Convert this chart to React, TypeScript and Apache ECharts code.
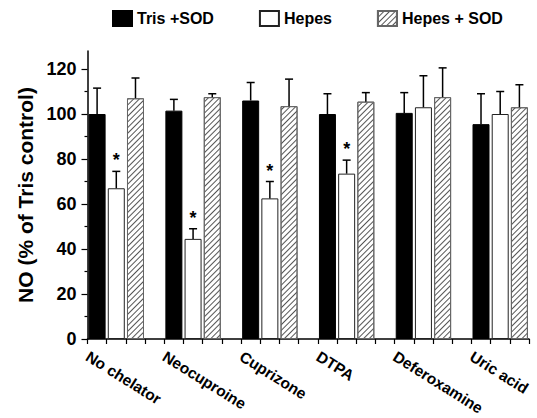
import React, { useEffect, useRef } from 'react';
import * as echarts from 'echarts';

const groups = ['No chelator', 'Neocuproine', 'Cuprizone', 'DTPA', 'Deferoxamine', 'Uric acid'];
const seriesNames = ['Tris +SOD', 'Hepes', 'Hepes + SOD'];
const trisSod = [100, 101.5, 106, 100, 100.5, 95.5];
const trisSodErr = [11.5, 5, 8, 9, 9, 13.5];
const hepes = [67, 44.5, 62.5, 73.5, 103, 100];
const hepesErr = [7.5, 4.5, 7.5, 6, 14, 10];
const hepesSod = [107, 107.5, 103.5, 105.5, 107.5, 103];
const hepesSodErr = [9, 1.5, 12, 4, 13, 10];
const hepesSignificant = [1, 1, 1, 1, 0, 0];
const yTicks = [0, 20, 40, 60, 80, 100, 120];
const yMinorTicks = [10, 30, 50, 70, 90, 110];

const FONT = '"Liberation Sans", Arial, Helvetica, sans-serif';
const SLOTS_PER_GROUP = 4;
const TOTAL_SLOTS = groups.length * SLOTS_PER_GROUP - 1;

function slotData(values: number[], s: number) {
  const arr: (number | string)[] = new Array(TOTAL_SLOTS).fill('-');
  values.forEach((v, g) => {
    arr[g * SLOTS_PER_GROUP + s] = v;
  });
  return arr;
}

export default function App() {
  const ref = useRef<HTMLDivElement>(null);
  useEffect(() => {
    if (!ref.current) return;
    const chart = echarts.init(ref.current, undefined, { renderer: 'svg' });

    const valuesList = [trisSod, hepes, hepesSod];
    const errList = [trisSodErr, hepesErr, hepesSodErr];
    const errData: number[][] = [];
    valuesList.forEach((vals, s) => {
      vals.forEach((v, g) => {
        errData.push([g * SLOTS_PER_GROUP + s, v, errList[s][g], s === 1 ? hepesSignificant[g] : 0]);
      });
    });

    const labelData: string[] = [];
    for (let i = 0; i <= TOTAL_SLOTS; i++) {
      labelData.push(i % SLOTS_PER_GROUP === 0 ? groups[i / SLOTS_PER_GROUP] : '');
    }
    const slotCats = new Array(TOTAL_SLOTS).fill(0).map((_, i) => 'slot' + i);

    const barCommon = {
      type: 'bar' as const,
      xAxisIndex: 0,
      yAxisIndex: 0,
      barWidth: 17,
      barGap: '-100%',
    };

    chart.setOption({
      animation: false,
      backgroundColor: '#ffffff',
      textStyle: { fontFamily: FONT },
      legend: {
        top: 5,
        left: 107,
        itemWidth: 19,
        itemHeight: 15,
        itemGap: 45,
        icon: 'rect',
        textStyle: { fontFamily: FONT, fontSize: 16, fontWeight: 'bold', color: '#000' },
        data: seriesNames,
      },
      grid: { left: 87.5, right: 8, top: 51, bottom: 79, containLabel: false, outerBoundsMode: 'none' },
      xAxis: [
        {
          type: 'category',
          data: slotCats,
          boundaryGap: true,
          position: 'bottom',
          axisLine: { show: true, lineStyle: { color: '#000', width: 1.5 } },
          axisTick: { show: true, interval: 0, length: 5, lineStyle: { color: '#000', width: 1.2 } },
          axisLabel: { show: false },
          splitLine: { show: false },
        },
        {
          type: 'category',
          data: labelData,
          boundaryGap: false,
          position: 'bottom',
          axisLine: { show: false },
          axisTick: { show: false },
          axisLabel: {
            interval: 0,
            rotate: -32,
            margin: 16,
            fontFamily: FONT,
            fontSize: 15.5,
            fontWeight: 'bold',
            color: '#000',
          },
          splitLine: { show: false },
        },
      ],
      yAxis: [
        {
          type: 'value',
          min: 0,
          max: 128,
          position: 'left',
          name: 'NO (% of Tris control)',
          nameLocation: 'middle',
          nameGap: 39,
          nameTextStyle: { fontFamily: FONT, fontSize: 21, fontWeight: 'bold', color: '#000' },
          axisLine: { show: true, lineStyle: { color: '#000', width: 1.5 } },
          axisTick: { show: true, customValues: yTicks, length: 6, lineStyle: { color: '#000', width: 1.2 } },
          axisLabel: {
            customValues: yTicks,
            margin: 11,
            fontFamily: FONT,
            fontSize: 18,
            fontWeight: 'bold',
            color: '#000',
          },
          splitLine: { show: false },
        },
        {
          type: 'value',
          min: 0,
          max: 128,
          position: 'left',
          axisLine: { show: false },
          axisTick: { show: true, customValues: yMinorTicks, length: 3, lineStyle: { color: '#000', width: 1.2 } },
          axisLabel: { show: false },
          splitLine: { show: false },
        },
      ],
      series: [
        {
          ...barCommon,
          name: seriesNames[0],
          data: slotData(trisSod, 0),
          itemStyle: { color: '#000', borderColor: '#000', borderWidth: 1 },
        },
        {
          ...barCommon,
          name: seriesNames[1],
          data: slotData(hepes, 1),
          itemStyle: { color: '#fff', borderColor: '#222', borderWidth: 1 },
        },
        {
          ...barCommon,
          name: seriesNames[2],
          data: slotData(hepesSod, 2),
          itemStyle: {
            color: '#fff',
            borderColor: '#666',
            borderWidth: 1,
            decal: {
              symbol: 'rect',
              symbolSize: 1,
              dashArrayX: [1, 0],
              dashArrayY: [1, 3],
              rotation: -Math.PI / 4,
              color: '#555',
              backgroundColor: '#fff',
            },
          },
        },
        {
          type: 'custom',
          name: 'errors',
          xAxisIndex: 0,
          yAxisIndex: 0,
          z: 5,
          encode: { x: 0, y: 1 },
          data: errData,
          renderItem: (params: any, api: any) => {
            const x = api.value(0);
            const v = api.value(1);
            const e = api.value(2);
            const sig = api.value(3);
            const base = api.coord([x, v]);
            const top = api.coord([x, v + e]);
            const stroke = { stroke: '#000', lineWidth: 1.5 };
            const children: any[] = [
              { type: 'line', shape: { x1: base[0], y1: base[1], x2: top[0], y2: top[1] }, style: stroke },
              { type: 'line', shape: { x1: top[0] - 4, y1: top[1], x2: top[0] + 4, y2: top[1] }, style: stroke },
            ];
            if (sig) {
              children.push({
                type: 'text',
                x: top[0],
                y: top[1] - 11,
                style: {
                  text: '*',
                  fontSize: 18,
                  fontWeight: 'bold',
                  fontFamily: FONT,
                  fill: '#000',
                  align: 'center',
                  verticalAlign: 'middle',
                },
              });
            }
            return { type: 'group', children };
          },
        },
      ],
    });
    return () => chart.dispose();
  }, []);
  return <div ref={ref} style={{ position: 'fixed', left: 0, top: 0, width: 537, height: 418 }} />;
}
